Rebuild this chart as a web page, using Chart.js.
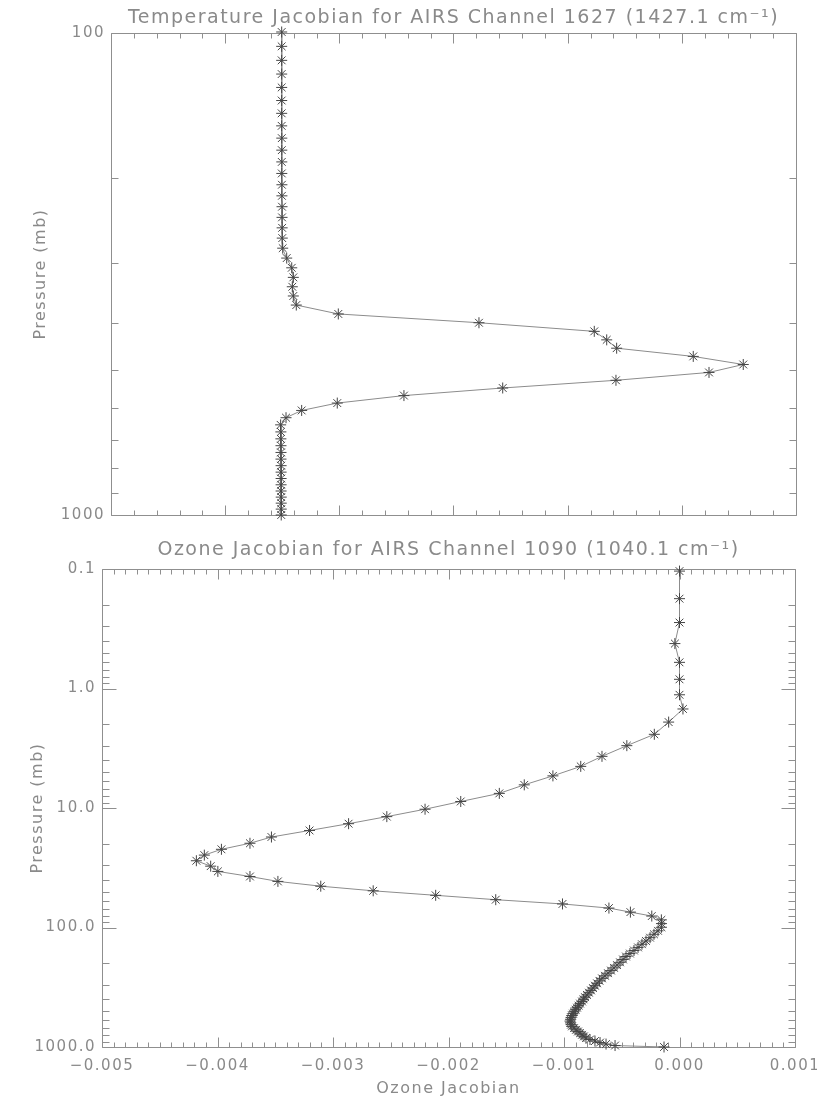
<!DOCTYPE html>
<html><head><meta charset="utf-8">
<script src="https://cdn.jsdelivr.net/npm/chart.js@4"></script>
<style>
html,body{margin:0;padding:0;background:#fff;}
#wrap{position:relative;width:817px;height:1099px;overflow:hidden;}
canvas{position:absolute;left:0;}
</style></head><body>
<div id="wrap">
<canvas id="tempChart" width="817" height="530" style="top:0"></canvas>
<canvas id="ozoneChart" width="817" height="569" style="top:530px"></canvas>
</div>
<script>
// ---------- data ----------
const tempTitle = 'Temperature Jacobian for AIRS Channel 1627 (1427.1 cm\u207B\u00B9)';
const ozoneTitle = 'Ozone Jacobian for AIRS Channel 1090 (1040.1 cm\u207B\u00B9)';

const tempPressure = [99.52,106.59,113.96,121.67,129.70,138.07,146.78,155.83,165.24,175.00,
  185.12,195.61,206.46,217.68,229.29,241.27,253.64,266.39,279.54,293.08,
  307.01,321.35,336.09,351.24,366.79,382.75,399.13,415.91,433.12,450.74,
  468.78,487.24,506.11,525.42,545.14,565.28,585.85,606.85,628.26,650.10,
  672.37,695.05,718.16,741.69,765.64,790.02,814.81,840.02,865.64,891.68,
  918.13,944.99,972.26,999.94];
const tempJacobian = [-0.00005,-0.00005,-0.00005,-0.00005,-0.00005,-0.00005,-0.00005,-0.00005,-0.00004,-0.00004,
  -0.00004,-0.00004,-0.00003,-0.00003,-0.00002,-0.00002,-0.00001,0.00000,0.00004,0.00039,
  0.00083,0.00097,0.00088,0.00097,0.00123,0.00491,0.01723,0.02733,0.02842,0.02929,
  0.03600,0.04038,0.03738,0.02923,0.01931,0.01066,0.00482,0.00170,0.00033,-0.00014,
  -0.00012,-0.00012,-0.00011,-0.00011,-0.00011,-0.00010,-0.00010,-0.00010,-0.00010,-0.00010,
  -0.00009,-0.00009,-0.00009,-0.00009];

const ozonePressure = [0.1041,0.1771,0.2806,0.4208,0.6042,0.8378,1.1286,1.4835,1.9103,2.4168,
  3.0090,3.6966,4.4854,5.3845,6.4023,7.5446,8.8213,10.239,11.807,13.533,
  15.422,17.486,19.729,22.164,24.792,27.627,30.669,33.931,37.423,41.147,
  45.113,49.325,53.792,58.526,63.522,68.796,74.352,80.197,86.336,92.777,
  99.52,106.59,113.96,121.67,129.70,138.07,146.78,155.83,165.24,175.00,
  185.12,195.61,206.46,217.68,229.29,241.27,253.64,266.39,279.54,293.08,
  307.01,321.35,336.09,351.24,366.79,382.75,399.13,415.91,433.12,450.74,
  468.78,487.24,506.11,525.42,545.14,565.28,585.85,606.85,628.26,650.10,
  672.37,695.05,718.16,741.69,765.64,790.02,814.81,840.02,865.64,891.68,
  918.13,944.99,972.26,999.94];
const ozoneJacobian = [0.00000,0.00000,0.00000,-0.00004,0.00000,0.00000,0.00000,0.00003,-0.000094,-0.000218,
  -0.000456,-0.000671,-0.000855,-0.001096,-0.001344,-0.001560,-0.001894,-0.002203,-0.002534,-0.002865,
  -0.003203,-0.003533,-0.003719,-0.003966,-0.004114,-0.004183,-0.004059,-0.003997,-0.003719,-0.003477,
  -0.003106,-0.002652,-0.002111,-0.001591,-0.001013,-0.000611,-0.000425,-0.000240,-0.000157,-0.000156,
  -0.000156,-0.000186,-0.000221,-0.000255,-0.000290,-0.000325,-0.000359,-0.000394,-0.000429,-0.000463,
  -0.000489,-0.000515,-0.000541,-0.000567,-0.000593,-0.000619,-0.000645,-0.000671,-0.000693,-0.000714,
  -0.000732,-0.000749,-0.000766,-0.000784,-0.000801,-0.000818,-0.000831,-0.000844,-0.000861,-0.000874,
  -0.000887,-0.000900,-0.000913,-0.000922,-0.000931,-0.000939,-0.000944,-0.000948,-0.000944,-0.000939,
  -0.000931,-0.000913,-0.000896,-0.000879,-0.000861,-0.000844,-0.000827,-0.000810,-0.000775,-0.000732,
  -0.000688,-0.000636,-0.000558,-0.000134];

// axis ranges and tick labels
const tempXRange = [-0.015, 0.045];
const tempYTicks = [100, 1000];
const ozoneXTicks = [-0.005, -0.004, -0.003, -0.002, -0.001, 0.000, 0.001];
const ozoneYTicks = [0.1, 1, 10, 100, 1000];

// ---------- style ----------
const FONT = 'DejaVu Sans';
const TXT = '#8a8a8a';
const AXIS = '#8f8f8f';
const LINE = '#8c8c8c';
const MARK = '#454545';
const LETTER = '1.5px';

function linTicks(min, max, nMinor, perMajor) {
  const out = [];
  for (let i = 0; i <= nMinor; i++) out.push({v: min + (max - min) * i / nMinor, major: i % perMajor === 0});
  return out;
}
function logTicks(min, max) {
  const out = [];
  const d0 = Math.round(Math.log10(min)), d1 = Math.round(Math.log10(max));
  for (let d = d0; d < d1; d++) for (let m = 1; m <= 9; m++) out.push({v: m * Math.pow(10, d), major: m === 1});
  out.push({v: max, major: true});
  return out;
}

const spacing = {
  id: 'spacing',
  beforeUpdate(chart) { chart.ctx.letterSpacing = LETTER; },
  beforeLayout(chart) { chart.ctx.letterSpacing = LETTER; },
  beforeDraw(chart) { chart.ctx.letterSpacing = LETTER; }
};

const boxTicks = {
  id: 'boxTicks',
  beforeDatasetsDraw(chart, args, o) {
    const {ctx, chartArea: a, scales: {x, y}} = chart;
    const L = Math.round(a.left) + 0.5, R = Math.round(a.right) + 0.5;
    const T = Math.round(a.top) + 0.5, B = Math.round(a.bottom) + 0.5;
    ctx.save();
    ctx.strokeStyle = AXIS; ctx.lineWidth = 1;
    ctx.beginPath();
    ctx.rect(L, T, R - L, B - T);
    o.xTicks.forEach(t => {
      const px = Math.round(x.getPixelForValue(t.v)) + 0.5;
      const len = t.major ? o.xMaj : o.xMaj / 2;
      ctx.moveTo(px, B); ctx.lineTo(px, B - len);
      ctx.moveTo(px, T); ctx.lineTo(px, T + len);
    });
    o.yTicks.forEach(t => {
      const py = Math.round(y.getPixelForValue(t.v)) + 0.5;
      const len = t.major ? o.yMaj : o.yMaj / 2;
      ctx.moveTo(L, py); ctx.lineTo(L + len, py);
      ctx.moveTo(R, py); ctx.lineTo(R - len, py);
    });
    ctx.stroke();
    ctx.restore();
  }
};

function dataset(px, py) {
  return {
    data: py.map((p, i) => ({x: px[i], y: p})),
    showLine: true,
    borderColor: LINE, borderWidth: 1,
    pointStyle: 'star', pointRadius: 5.5, pointHoverRadius: 5.5,
    pointBorderColor: MARK, pointBorderWidth: 1, pointBackgroundColor: MARK,
    tension: 0, clip: false
  };
}

const fmtX = v => (v < -1e-12 ? '\u2212' : '') + Math.abs(v).toFixed(3);
const noPad = s => { s.paddingLeft = 0; s.paddingRight = 0; };

// ---------- temperature chart ----------
new Chart(document.getElementById('tempChart'), {
  type: 'scatter',
  data: {datasets: [dataset(tempJacobian, tempPressure)]},
  plugins: [spacing, boxTicks],
  options: {
    responsive: false, animation: false,
    layout: {padding: {left: 0, right: 21, top: 0, bottom: 0}},
    plugins: {
      legend: {display: false}, tooltip: {enabled: false},
      title: {display: true, text: tempTitle, fullSize: false, color: TXT,
        font: {family: FONT, size: 19, weight: 'normal', lineHeight: 1.2},
        padding: {top: 7, bottom: 3.2}},
      boxTicks: {xTicks: linTicks(tempXRange[0], tempXRange[1], 30, 5), yTicks: logTicks(100, 1000), xMaj: 10, yMaj: 14}
    },
    scales: {
      x: {type: 'linear', min: tempXRange[0], max: tempXRange[1],
        grid: {display: false, drawTicks: false}, border: {display: false},
        ticks: {display: false},
        afterFit(s) { s.height = 13; noPad(s); }},
      y: {type: 'logarithmic', reverse: true, min: 100, max: 1000,
        grid: {display: false, drawTicks: false}, border: {display: false},
        afterBuildTicks(s) { s.ticks = tempYTicks.map(v => ({value: v})); },
        ticks: {color: TXT, font: {family: FONT, size: 15}, padding: 6, autoSkip: false,
          callback: v => String(v)},
        title: {display: true, text: 'Pressure (mb)', color: TXT, font: {family: FONT, size: 16}, padding: {top: 31, bottom: 0}},
        afterFit(s) { s.width = 111; }}
    }
  }
});

// ---------- ozone chart ----------
new Chart(document.getElementById('ozoneChart'), {
  type: 'scatter',
  data: {datasets: [dataset(ozoneJacobian, ozonePressure)]},
  plugins: [spacing, boxTicks],
  options: {
    responsive: false, animation: false,
    layout: {padding: {left: 0, right: 22, top: 0, bottom: 0}},
    plugins: {
      legend: {display: false}, tooltip: {enabled: false},
      title: {display: true, text: ozoneTitle, fullSize: false, color: TXT,
        font: {family: FONT, size: 19, weight: 'normal', lineHeight: 1.2},
        padding: {top: 9, bottom: 7.2}},
      boxTicks: {xTicks: linTicks(ozoneXTicks[0], ozoneXTicks[ozoneXTicks.length - 1], 60, 10), yTicks: logTicks(0.1, 1000), xMaj: 10, yMaj: 14}
    },
    scales: {
      x: {type: 'linear', min: ozoneXTicks[0], max: ozoneXTicks[ozoneXTicks.length - 1],
        grid: {display: false, drawTicks: false}, border: {display: false},
        afterBuildTicks(s) { s.ticks = ozoneXTicks.map(v => ({value: v})); },
        ticks: {color: TXT, font: {family: FONT, size: 15}, padding: 10, autoSkip: false, maxRotation: 0,
          callback: v => fmtX(v)},
        title: {display: true, text: 'Ozone Jacobian', color: TXT, font: {family: FONT, size: 16}, padding: {top: 0, bottom: 1}},
        afterFit(s) { s.height = 52; noPad(s); }},
      y: {type: 'logarithmic', reverse: true, min: 0.1, max: 1000,
        grid: {display: false, drawTicks: false}, border: {display: false},
        afterBuildTicks(s) { s.ticks = ozoneYTicks.map(v => ({value: v})); },
        ticks: {color: TXT, font: {family: FONT, size: 15}, padding: 6, autoSkip: false,
          callback: v => Number(v).toFixed(1)},
        title: {display: true, text: 'Pressure (mb)', color: TXT, font: {family: FONT, size: 16}, padding: {top: 28, bottom: 0}},
        afterFit(s) { s.width = 102; }}
    }
  }
});
</script>
</body></html>
